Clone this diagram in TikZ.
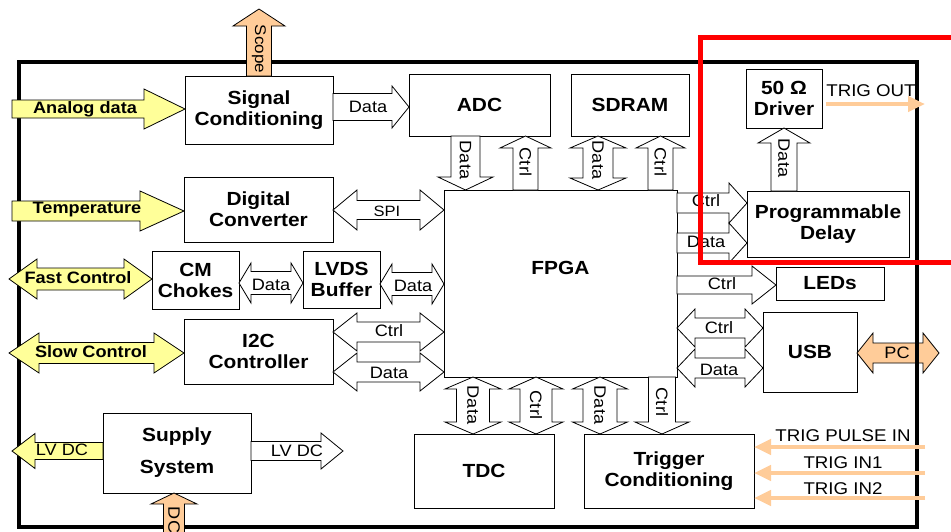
\documentclass[tikz,border=0pt]{standalone}
\usepackage{fontspec}
\setmainfont{Liberation Sans}[FakeStretch=1.1]
\usetikzlibrary{calc,arrows.meta}
\definecolor{ylw}{RGB}{255,255,153}
\definecolor{org}{RGB}{255,204,153}
\definecolor{redc}{RGB}{255,0,0}
% box: name, x1, y1, x2, y2, text
\newcommand\mkbox[6]{\node[box, minimum width={(#4-#2)*1pt}, minimum height={(#5-#3)*1pt}] (#1) at ({(#2+#4)/2},{(#3+#5)/2}) {#6};}
% block arrows: style, from, to, shaft half width, head half width, head length
\newcommand\ArrR[6]{\draw[#1] let \p1=(#2), \p2=(#3) in
 (\x1,{\y2+#4pt}) -- ({\x2-#6pt},{\y2+#4pt}) -- ({\x2-#6pt},{\y2+#5pt}) -- (\x2,\y2)
 -- ({\x2-#6pt},{\y2-#5pt}) -- ({\x2-#6pt},{\y2-#4pt}) -- (\x1,{\y2-#4pt}) -- cycle;}
\newcommand\ArrL[6]{\draw[#1] let \p1=(#2), \p2=(#3) in
 (\x1,{\y2+#4pt}) -- ({\x2+#6pt},{\y2+#4pt}) -- ({\x2+#6pt},{\y2+#5pt}) -- (\x2,\y2)
 -- ({\x2+#6pt},{\y2-#5pt}) -- ({\x2+#6pt},{\y2-#4pt}) -- (\x1,{\y2-#4pt}) -- cycle;}
\newcommand\ArrLR[6]{\draw[#1] let \p1=(#2), \p2=(#3) in
 (\x1,\y1) -- ({\x1+#6pt},{\y1+#5pt}) -- ({\x1+#6pt},{\y1+#4pt}) -- ({\x2-#6pt},{\y1+#4pt})
 -- ({\x2-#6pt},{\y1+#5pt}) -- (\x2,\y1) -- ({\x2-#6pt},{\y1-#5pt}) -- ({\x2-#6pt},{\y1-#4pt})
 -- ({\x1+#6pt},{\y1-#4pt}) -- ({\x1+#6pt},{\y1-#5pt}) -- cycle;}
\newcommand\ArrD[6]{\draw[#1] let \p1=(#2), \p2=(#3) in
 ({\x2-#4pt},\y1) -- ({\x2-#4pt},{\y2+#6pt}) -- ({\x2-#5pt},{\y2+#6pt}) -- (\x2,\y2)
 -- ({\x2+#5pt},{\y2+#6pt}) -- ({\x2+#4pt},{\y2+#6pt}) -- ({\x2+#4pt},\y1) -- cycle;}
\newcommand\ArrU[6]{\draw[#1] let \p1=(#2), \p2=(#3) in
 ({\x2-#4pt},\y1) -- ({\x2-#4pt},{\y2-#6pt}) -- ({\x2-#5pt},{\y2-#6pt}) -- (\x2,\y2)
 -- ({\x2+#5pt},{\y2-#6pt}) -- ({\x2+#4pt},{\y2-#6pt}) -- ({\x2+#4pt},\y1) -- cycle;}
\newcommand\ArrUD[6]{\draw[#1] let \p1=(#2), \p2=(#3) in
 (\x1,\y1) -- ({\x1+#5pt},{\y1-#6pt}) -- ({\x1+#4pt},{\y1-#6pt}) -- ({\x1+#4pt},{\y2+#6pt})
 -- ({\x1+#5pt},{\y2+#6pt}) -- (\x1,\y2) -- ({\x1-#5pt},{\y2+#6pt}) -- ({\x1-#4pt},{\y2+#6pt})
 -- ({\x1-#4pt},{\y1-#6pt}) -- ({\x1-#5pt},{\y1-#6pt}) -- cycle;}
\begin{document}
\begin{tikzpicture}[x=1pt,y=-1pt,
  box/.style={draw, line width=1pt, fill=white, align=center, inner sep=0pt, outer sep=0pt,
    font=\bfseries\fontsize{19}{21}\selectfont},
  warr/.style={draw, line width=0.8pt, fill=white},
  yarr/.style={draw, line width=0.8pt, fill=ylw},
  oarr/.style={draw, line width=0.8pt, fill=org},
  lab/.style={inner sep=0pt, font=\fontsize{16.5}{18}\selectfont},
  tlab/.style={inner sep=0pt, font=\fontsize{17}{19}\selectfont},
  blab/.style={inner sep=0pt, font=\bfseries\fontsize{16.5}{18}\selectfont},
  vlab/.style={lab, rotate=-90},
  trigline/.style={draw=org, line width=4.5pt, -{Triangle[length=17pt,width=15pt]}},
]
\useasboundingbox[fill=white] (0,0) rectangle (951,531);
% frame
\draw[line width=3.5pt] (19,62) rectangle (917,527);
% boxes
\mkbox{sig}{185}{76}{333}{144}{Signal\\Conditioning}
\mkbox{adc}{409}{74}{550}{136}{ADC}
\mkbox{sdram}{571}{74}{689}{136}{SDRAM}
\mkbox{dig}{184}{177}{333}{242}{Digital\\Converter}
\mkbox{fpga}{444}{190}{677}{377}{FPGA\\[10pt]}
\mkbox{cm}{152}{251}{239}{309}{CM\\Chokes}
\mkbox{lvds}{303}{251}{380}{308}{LVDS\\Buffer}
\mkbox{i2c}{184}{319}{333}{384}{I2C\\Controller}
\mkbox{sup}{103}{413}{251}{493}{Supply\\[11pt]System}
\mkbox{tdc}{414}{434}{554}{508}{TDC}
\mkbox{trig}{584}{434}{754}{508}{Trigger\\Conditioning}
\mkbox{drv}{746}{69}{822}{128}{50 Ω\\Driver}
\mkbox{pd}{747}{191}{909}{257}{Programmable\\Delay}
\mkbox{leds}{776}{267}{884}{300}{LEDs}
\mkbox{usb}{763}{312}{857}{392}{USB}
% external arrows
\ArrU{oarr}{sig.north}{259,9}{12.5}{26}{17}
\node[vlab, font=\fontsize{15.5}{17}\selectfont] (lscope) at (259,49) {Scope};
\ArrR{yarr}{12,109}{sig.west |- 0,109}{9}{20}{41}
\node[blab] (lanalog) at (85,109) {Analog data};
\ArrR{yarr}{12,211}{dig.west |- 0,211}{10}{20}{44}
\node[blab] (ltemp) at (87,210) {Temperature};
\ArrLR{yarr}{9,279}{cm.west |- 0,279}{11}{20}{28}
\node[blab] (lfast) at (78,278) {Fast Control};
\ArrLR{yarr}{9,353}{i2c.west |- 0,353}{10.5}{20}{30}
\node[blab] (lslow) at (91,352) {Slow Control};
\ArrL{yarr}{sup.west |- 0,451}{12,451}{8.5}{17.5}{23}
\node[lab] (llv1) at (62,450) {LV DC};
\ArrR{warr}{sup.east |- 0,451}{343,451}{9.5}{18}{22}
\node[lab] (llv2) at (297,451) {LV DC};
\ArrU{oarr}{174,545}{sup.south -| 174,0}{10.5}{23}{11}
\node[vlab] (ldc) at (174,520) {DC};
% internal arrows
\ArrR{warr}{sig.east |- 0,107}{adc.west |- 0,107}{13.5}{21}{17}
\node[lab] (l1) at (368,107) {Data};
\ArrD{warr}{adc.south -| 465.5,0}{fpga.north -| 465.5,0}{14.5}{27.5}{13}
\node[vlab] (l2) at (465.5,160) {Data};
\ArrU{warr}{fpga.north -| 525.5,0}{adc.south -| 525.5,0}{12.5}{25.5}{12}
\node[vlab] (l3) at (525.5,162) {Ctrl};
\ArrUD{warr}{sdram.south -| 598,0}{fpga.north -| 598,0}{15}{28}{12}
\node[vlab] (l4) at (598,160) {Data};
\ArrU{warr}{fpga.north -| 660.5,0}{sdram.south -| 660.5,0}{12.5}{24.5}{12}
\node[vlab] (l5) at (660.5,162) {Ctrl};
\ArrLR{warr}{dig.east |- 0,210}{fpga.west |- 0,210}{9.5}{20}{24}
\node[lab, font=\fontsize{15}{17}\selectfont] (l6) at (387,211) {SPI};
\ArrLR{warr}{cm.east |- 0,283}{lvds.west |- 0,283}{11.5}{20}{12}
\node[lab] (l7) at (271,285) {Data};
\ArrLR{warr}{lvds.east |- 0,284}{fpga.west |- 0,284}{11.5}{20}{12}
\node[lab] (l8) at (413,286) {Data};
\ArrLR{warr}{i2c.east |- 0,332}{fpga.west |- 0,332}{10}{19}{24}
\node[lab] (l9) at (389,331) {Ctrl};
\ArrLR{warr}{i2c.east |- 0,372}{fpga.west |- 0,372}{10}{19}{24}
\node[lab] (l10) at (389,373) {Data};
\ArrUD{warr}{fpga.south -| 473,0}{tdc.north -| 473,0}{16.5}{28}{12}
\node[vlab] (l11) at (473,405) {Data};
\ArrUD{warr}{fpga.south -| 536,0}{tdc.north -| 536,0}{16}{27}{12}
\node[vlab] (l12) at (536,405) {Ctrl};
\ArrUD{warr}{fpga.south -| 600,0}{trig.north -| 600,0}{17}{27.5}{12}
\node[vlab] (l13) at (600,405) {Data};
\ArrD{warr}{fpga.south -| 662,0}{trig.north -| 662,0}{13.5}{27}{12}
\node[vlab] (l14) at (662,402) {Ctrl};
\ArrR{warr}{fpga.east |- 0,203}{pd.west |- 0,203}{10}{20}{18}
\node[lab] (l15) at (706,201) {Ctrl};
\ArrR{warr}{fpga.east |- 0,243}{pd.west |- 0,243}{10}{20}{18}
\node[lab] (l16) at (706,242) {Data};
\ArrR{warr}{fpga.east |- 0,285}{leds.west |- 0,285}{9}{19}{24}
\node[lab] (l17) at (722,284) {Ctrl};
\ArrLR{warr}{fpga.east |- 0,328}{usb.west |- 0,328}{10}{19}{18}
\node[lab] (l18) at (719,328) {Ctrl};
\ArrLR{warr}{fpga.east |- 0,368}{usb.west |- 0,368}{10}{19}{18}
\node[lab] (l19) at (719,370) {Data};
\ArrU{warr}{pd.north -| 784,0}{drv.south -| 784,0}{13}{26}{15}
\node[vlab] (l20) at (784,158) {Data};
\ArrLR{oarr}{usb.east |- 0,353}{939,353}{10}{20}{16}
\node[lab] (lpc) at (897,353) {PC};
\draw[line width=3.5pt] (917,328) -- (917,378);
% trigger lines
\draw[trigline] ([xshift=4pt]drv.east |- 0,104) -- (925,104);
\node[tlab] (ltout) at (871,91) {TRIG OUT};
\draw[trigline] (925,447) -- (trig.east |- 0,447);
\node[tlab] (ltp) at (843,436) {TRIG PULSE IN};
\draw[trigline] (925,473) -- (trig.east |- 0,473);
\node[tlab] (lt1) at (843,463) {TRIG IN1};
\draw[trigline] (925,498) -- (trig.east |- 0,498);
\node[tlab] (lt2) at (843,489) {TRIG IN2};
% red highlight
\draw[redc, line width=5pt] (965,37) -- (700,37) -- (700,262) -- (965,262);
\end{tikzpicture}
\end{document}
